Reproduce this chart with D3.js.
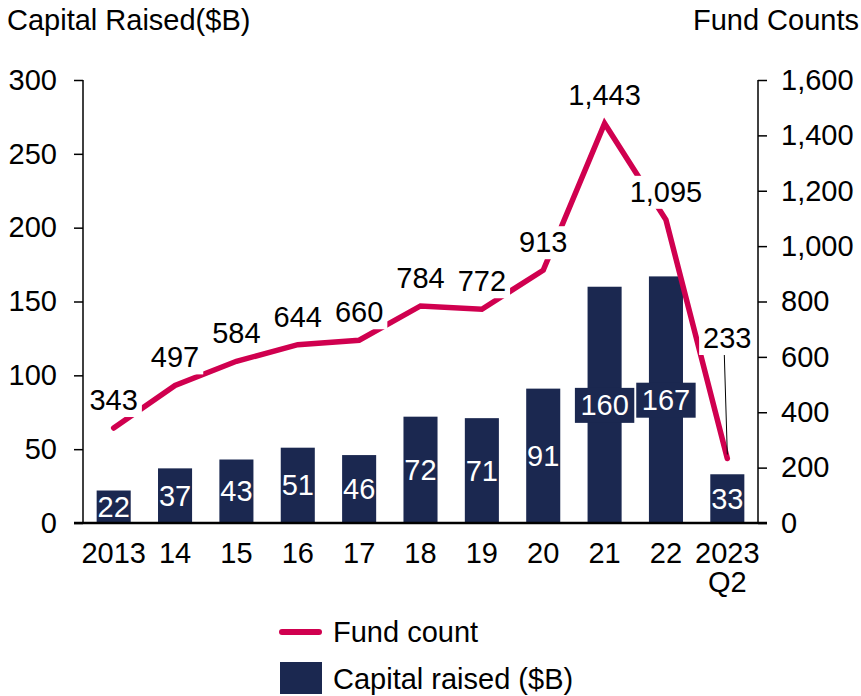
<!DOCTYPE html>
<html>
<head>
<meta charset="utf-8">
<script src="https://cdn.jsdelivr.net/npm/d3@7"></script>
<style>
  body { margin: 0; background: #fff; }
  svg text { font-family: "Liberation Sans", Arial, sans-serif; fill: #000; }
</style>
</head>
<body>
<div id="chart"></div>
<script>
// data
var years = ["2013", "14", "15", "16", "17", "18", "19", "20", "21", "22", "2023"];
var capitalRaised = [22, 37, 43, 51, 46, 72, 71, 91, 160, 167, 33];
var fundCounts = [343, 497, 584, 644, 660, 784, 772, 913, 1443, 1095, 233];
var leftTicks = [0, 50, 100, 150, 200, 250, 300];
var rightTicks = [0, 200, 400, 600, 800, 1000, 1200, 1400, 1600];

var navy = "#1b2850";
var crimson = "#d0004f";
var fs = 29;

var svgWidth = 861, svgHeight = 696;
var plot = { left: 83, right: 758, top: 80, bottom: 523 };

var svg = d3.select("#chart").append("svg")
    .attr("width", svgWidth)
    .attr("height", svgHeight);

var x = d3.scaleBand().domain(years).range([plot.left, plot.right])
    .paddingInner(0.445).paddingOuter(0.2225);
var yLeft = d3.scaleLinear().domain([0, 300]).range([plot.bottom, plot.top]);
var yRight = d3.scaleLinear().domain([0, 1600]).range([plot.bottom, plot.top]);

// axes
var leftAxis = d3.axisLeft(yLeft).tickValues(leftTicks).tickSize(9).tickPadding(17);
var rightAxis = d3.axisRight(yRight).tickValues(rightTicks).tickSize(9).tickPadding(14)
    .tickFormat(d3.format(","));

var gl = svg.append("g").attr("transform", "translate(" + plot.left + ",0)").call(leftAxis);
var gr = svg.append("g").attr("transform", "translate(" + plot.right + ",0)").call(rightAxis);
[gl, gr].forEach(function(g) {
    g.select(".domain").attr("stroke", "#000").attr("stroke-width", 1.5)
        .attr("d", "M0," + plot.top + "V" + plot.bottom);
    g.selectAll(".tick line").attr("stroke", "#000").attr("stroke-width", 1.5);
    g.selectAll(".tick text").attr("font-size", fs).attr("font-family", "Liberation Sans, Arial, sans-serif");
});

// bars
svg.append("g").selectAll("rect").data(years).enter().append("rect")
    .attr("x", function(d) { return x(d); })
    .attr("width", x.bandwidth())
    .attr("y", function(d, i) { return yLeft(capitalRaised[i]); })
    .attr("height", function(d, i) { return plot.bottom - yLeft(capitalRaised[i]); })
    .attr("fill", navy);

// x axis line
svg.append("line")
    .attr("x1", plot.left - 9).attr("x2", plot.right + 9)
    .attr("y1", plot.bottom).attr("y2", plot.bottom)
    .attr("stroke", "#000").attr("stroke-width", 2.5);

// x labels
var xl = svg.append("g");
years.forEach(function(d) {
    xl.append("text").attr("x", x(d) + x.bandwidth() / 2).attr("y", 563)
        .attr("text-anchor", "middle").attr("font-size", fs).text(d);
});
xl.append("text").attr("x", x("2023") + x.bandwidth() / 2).attr("y", 592)
    .attr("text-anchor", "middle").attr("font-size", fs).text("Q2");

// bar labels (white, centred in bar; navy box when wider than the bar)
var bl = svg.append("g");
years.forEach(function(d, i) {
    var cx = x(d) + x.bandwidth() / 2;
    var cy = (yLeft(capitalRaised[i]) + plot.bottom) / 2;
    var t = bl.append("text").attr("x", cx).attr("y", cy + 10)
        .attr("text-anchor", "middle").attr("font-size", fs)
        .style("fill", "#fff").text(capitalRaised[i]);
    var tw = t.node().getComputedTextLength();
    if (tw > x.bandwidth()) {
        var w = tw + 11;
        bl.insert("rect", "text").attr("x", cx - w / 2).attr("y", cy - 17)
            .attr("width", w).attr("height", 35).attr("fill", navy);
    }
});

// fund count line
var line = d3.line()
    .x(function(d, i) { return x(years[i]) + x.bandwidth() / 2; })
    .y(function(d) { return yRight(d); });
svg.append("path").datum(fundCounts)
    .attr("d", line)
    .attr("fill", "none")
    .attr("stroke", crimson)
    .attr("stroke-width", 5.5)
    .attr("stroke-linejoin", "miter")
    .attr("stroke-linecap", "round");

// fund count labels with white box
var ll = svg.append("g");
fundCounts.forEach(function(v, i) {
    var cx = x(years[i]) + x.bandwidth() / 2;
    var py = yRight(v);
    var base = py - 18;
    if (i === fundCounts.length - 1) {
        base = 348;
        ll.append("line").attr("x1", cx - 3).attr("y1", base + 7)
            .attr("x2", cx).attr("y2", py - 4)
            .attr("stroke", "#000").attr("stroke-width", 1);
    }
    var t = ll.append("text").attr("x", cx).attr("y", base)
        .attr("text-anchor", "middle").attr("font-size", fs)
        .text(d3.format(",")(v));
    var w = t.node().getComputedTextLength() + 8;
    ll.insert("rect", "text").attr("x", cx - w / 2).attr("y", base - 26)
        .attr("width", w).attr("height", 33).attr("fill", "#fff");
    ll.node().appendChild(t.node());
});

// axis titles
svg.append("text").attr("x", 7).attr("y", 30).attr("font-size", fs).text("Capital Raised($B)");
svg.append("text").attr("x", 859).attr("y", 30).attr("font-size", fs)
    .attr("text-anchor", "end").text("Fund Counts");

// legend
var lg = svg.append("g");
lg.append("line").attr("x1", 282).attr("x2", 319).attr("y1", 632).attr("y2", 632)
    .attr("stroke", crimson).attr("stroke-width", 6).attr("stroke-linecap", "round");
lg.append("text").attr("x", 333).attr("y", 642).attr("font-size", fs).text("Fund count");
lg.append("rect").attr("x", 280).attr("y", 662).attr("width", 42).attr("height", 32).attr("fill", navy);
lg.append("text").attr("x", 333).attr("y", 689).attr("font-size", fs).text("Capital raised ($B)");
</script>
</body>
</html>
